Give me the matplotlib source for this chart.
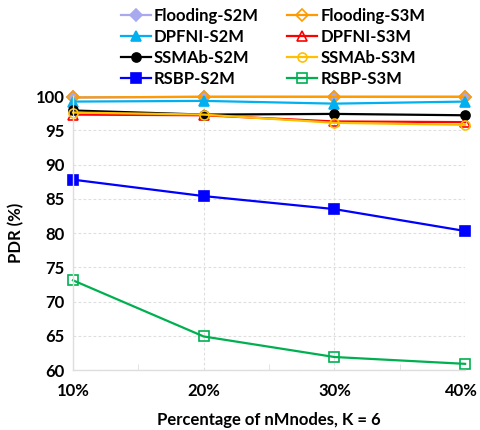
import matplotlib
matplotlib.use("Agg")
import matplotlib.pyplot as plt
from matplotlib.transforms import ScaledTranslation

plt.rcParams["font.family"] = ["Lato", "DejaVu Sans"]
plt.rcParams["font.weight"] = "bold"

categories = ["10%", "20%", "30%", "40%"]

flooding_s2m = [99.8, 99.9, 99.9, 99.9]
flooding_s3m = [99.8, 99.9, 99.9, 99.9]
dpfni_s2m = [99.2, 99.3, 98.9, 99.2]
dpfni_s3m = [97.3, 97.2, 96.3, 96.2]
ssmab_s2m = [97.9, 97.3, 97.4, 97.2]
ssmab_s3m = [97.6, 97.3, 96.1, 95.8]
rsbp_s2m = [87.8, 85.4, 83.5, 80.3]
rsbp_s3m = [73.1, 64.9, 61.9, 60.9]

yticks = [60, 65, 70, 75, 80, 85, 90, 95, 100]

# (label, values, colour, marker, filled)
series = [
    ("Flooding-S2M", flooding_s2m, "#a9a9f0", "D", True),
    ("Flooding-S3M", flooding_s3m, "#ff9a00", "D", False),
    ("DPFNI-S2M", dpfni_s2m, "#00b0f0", "^", True),
    ("DPFNI-S3M", dpfni_s3m, "#ff0000", "^", False),
    ("SSMAb-S2M", ssmab_s2m, "#000000", "o", True),
    ("SSMAb-S3M", ssmab_s3m, "#ffc000", "o", False),
    ("RSBP-S2M", rsbp_s2m, "#0000ff", "s", True),
    ("RSBP-S3M", rsbp_s3m, "#00b050", "s", False),
]

fig = plt.figure(figsize=(4.8, 4.3), dpi=100)
ax = fig.add_axes([0.152, 0.1395, 0.817, 0.637])

x = range(len(categories))
handles = {}
for label, values, color, marker, filled in series:
    size = 6.5 if marker != "D" else 6
    (line,) = ax.plot(
        x, values, color=color, linewidth=1.6, marker=marker, markersize=size,
        markerfacecolor=color if filled else "none", markeredgecolor=color,
        markeredgewidth=1.2, label=label, clip_on=False,
    )
    handles[label] = line

grid_col = "#dedede"
ax.set_xlim(0, len(categories) - 1)
ax.set_ylim(60, 100)
ax.set_yticks(yticks)
ax.set_xticks(list(x))
ax.set_xticklabels(categories)
ax.set_xticks([0.5, 1.5, 2.5], minor=True)
ax.tick_params(axis="both", which="major", length=0, labelsize=12)
ax.tick_params(axis="x", which="major", pad=9)
ax.tick_params(axis="y", which="major", pad=6)
ax.tick_params(axis="x", which="minor", direction="in", length=4, color=grid_col)
ax.grid(True, which="major", color=grid_col, linestyle=(0, (2.5, 2)), linewidth=0.8)
ax.set_axisbelow(True)
for side in ("top", "right"):
    ax.spines[side].set_visible(False)
for side in ("left", "bottom"):
    ax.spines[side].set_color(grid_col)
    ax.spines[side].set_linewidth(1.0)

# last x label sits right at the figure edge; nudge it in a little
last = ax.get_xticklabels()[-1]
last.set_transform(last.get_transform() + ScaledTranslation(-3 / 72, 0, fig.dpi_scale_trans))

ax.set_xlabel("Percentage of nMnodes, K = 6", fontsize=12, fontweight="bold", labelpad=10)
ax.set_ylabel("PDR (%)", fontsize=12, fontweight="bold", labelpad=8)

order = [s[0] for s in series[0::2]] + [s[0] for s in series[1::2]]
fig.legend(
    [handles[k] for k in order], order, ncol=2, loc="upper left",
    bbox_to_anchor=(0.234, 1.0), frameon=False, fontsize=12,
    handlelength=1.8, handletextpad=0.2, labelspacing=0.3, columnspacing=1.7,
    borderaxespad=0.1,
)

fig.savefig("out.png", dpi=100)
